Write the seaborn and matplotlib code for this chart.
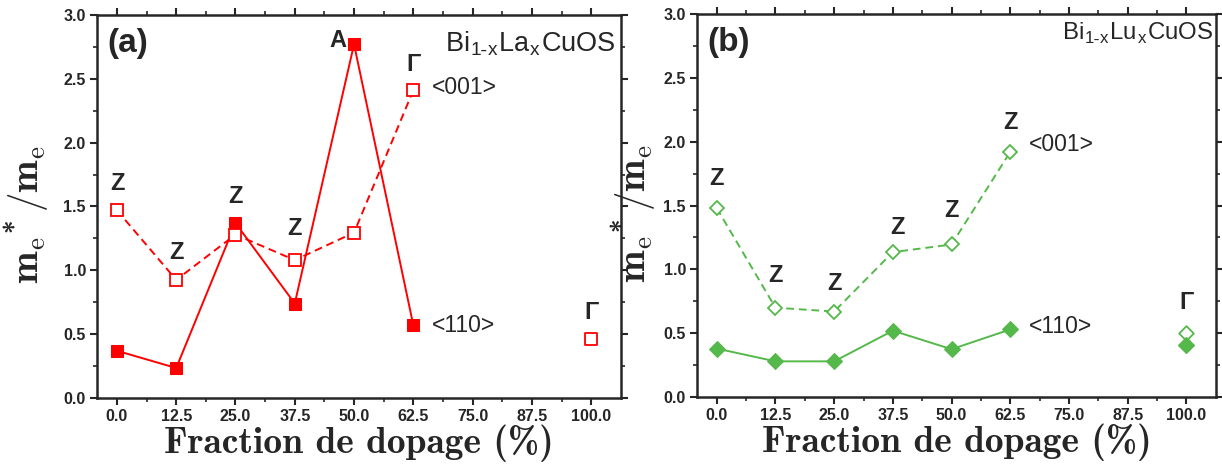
import matplotlib
matplotlib.use("Agg")
import matplotlib.pyplot as plt
import seaborn as sns
import numpy as np
import pandas as pd

# ---- data ----
x_line = [0.0, 12.5, 25.0, 37.5, 50.0, 62.5]
x_tick_vals = [0.0, 12.5, 25.0, 37.5, 50.0, 62.5, 75.0, 87.5, 100.0]
x_tick_labels = ["0.0", "12.5", "25.0", "37.5", "50.0", "62.5", "75.0", "87.5", "100.0"]
y_tick_vals = [0.0, 0.5, 1.0, 1.5, 2.0, 2.5, 3.0]

la_110 = [0.37, 0.235, 1.37, 0.74, 2.77, 0.57]
la_001 = [1.47, 0.925, 1.28, 1.08, 1.295, 2.41]
la_gamma_x = [100.0]
la_gamma_001 = [0.465]

lu_001 = [1.48, 0.70, 0.67, 1.135, 1.195, 1.92]
lu_110 = [0.38, 0.28, 0.28, 0.52, 0.375, 0.53]
lu_gamma_x = [100.0]
lu_gamma_001 = [0.50]
lu_gamma_110 = [0.405]

# point labels: (x, y, text)
la_labels = [(0.0, 1.68, "Z"), (12.5, 1.14, "Z"), (25.0, 1.58, "Z"), (37.5, 1.33, "Z"),
             (46.5, 2.80, "A"), (62.5, 2.61, "Γ"), (100.0, 0.67, "Γ")]
lu_labels = [(0.0, 1.71, "Z"), (12.5, 0.95, "Z"), (25.0, 0.89, "Z"), (38.5, 1.33, "Z"),
             (50.0, 1.46, "Z"), (62.5, 2.15, "Z"), (100.0, 0.74, "Γ")]

RED = "#ff0000"
GREEN = "#55b84a"

sns.set_theme(style="ticks")
plt.rcParams["mathtext.fontset"] = "custom"
plt.rcParams["mathtext.rm"] = "cmr10"
plt.rcParams["mathtext.bf"] = "cmb10"
plt.rcParams["mathtext.it"] = "cmb10"
plt.rcParams["font.family"] = ["Liberation Sans Narrow", "Liberation Sans", "DejaVu Sans"]

fig = plt.figure(figsize=(12.22, 4.65), dpi=100)
axA = fig.add_axes([0.0794, 0.144, 0.4288, 0.824])
axB = fig.add_axes([0.5704, 0.146, 0.4247, 0.824])

tick_font = dict(family=["Liberation Sans Narrow", "Liberation Sans"], weight="bold", size=11.5)
lab_font = dict(family=["Liberation Sans", "DejaVu Sans"], weight="bold", size=17)
dir_font = dict(family=["Liberation Sans Narrow", "Liberation Sans"], size=16.5)
SANS = ["Liberation Sans", "DejaVu Sans"]


def style_axis(ax, label_x):
    ax.set_xlim(-4.2, 106.3)
    ax.set_ylim(0, 3.0)
    ax.set_xticks(x_tick_vals)
    ax.set_xticklabels(x_tick_labels, fontdict=tick_font)
    ax.set_xticks(np.arange(6.25, 100, 12.5), minor=True)
    ax.set_yticks(y_tick_vals)
    ax.set_yticklabels([f"{v:.1f}" for v in y_tick_vals], fontdict=tick_font)
    ax.set_yticks(np.arange(0.25, 3.0, 0.5), minor=True)
    for s in ax.spines.values():
        s.set_linewidth(1.8)
        s.set_visible(True)
    ax.tick_params(axis="both", which="major", direction="out", length=5, width=1.5, pad=3)
    ax.tick_params(axis="both", which="minor", direction="out", length=3, width=1.2)
    ax.tick_params(top=True, right=True, which="both", labeltop=False, labelright=False)
    ax.set_xlabel("Fraction de dopage (%)", fontsize=27, family="cmb10", labelpad=0)
    ax.set_ylabel(r"$\mathbf{m}_{\mathrm{e}}{}^{\mathbf{*}}\,/\mathbf{m}_{\mathrm{e}}$",
                  fontsize=28)
    ax.yaxis.set_label_coords(label_x, 0.48)
    ax.grid(False)


# ---- panel (a) ----
dfa = pd.DataFrame({"x": x_line, "y110": la_110, "y001": la_001})
sns.lineplot(data=dfa, x="x", y="y110", ax=axA, color=RED, lw=1.4, marker="s",
             markersize=8, markerfacecolor=RED, markeredgecolor=RED, zorder=3)
sns.lineplot(data=dfa, x="x", y="y001", ax=axA, color=RED, lw=1.4, ls="--", marker="s",
             markersize=8, markerfacecolor="white", markeredgecolor=RED, markeredgewidth=1.3, zorder=4)
axA.lines[-1].set_dashes([4, 2.5])
sns.scatterplot(x=la_gamma_x, y=la_gamma_001, ax=axA, marker="s", s=64, facecolor="white",
                edgecolor=RED, linewidth=1.3, zorder=4)
style_axis(axA, -0.088)
for x, y, t in la_labels:
    axA.text(x, y, t, ha="center", va="center", fontdict=lab_font)
axA.text(66.5, 2.43, "<001>", ha="left", va="center", fontdict=dir_font)
axA.text(66.5, 0.57, "<110>", ha="left", va="center", fontdict=dir_font)
axA.text(0.02, 0.925, "(a)", transform=axA.transAxes, ha="left", va="center",
         fontsize=24, fontweight="bold", family=SANS)
axA.text(0.99, 0.925, r"Bi$_{\mathregular{1\text{-}x}}$La$_{\mathregular{x}}$CuOS", transform=axA.transAxes,
         ha="right", va="center", fontsize=19.5, family=SANS)

# ---- panel (b) ----
dfb = pd.DataFrame({"x": x_line, "y110": lu_110, "y001": lu_001})
sns.lineplot(data=dfb, x="x", y="y110", ax=axB, color=GREEN, lw=1.4, marker="D",
             markersize=8, markerfacecolor=GREEN, markeredgecolor=GREEN, zorder=3)
sns.lineplot(data=dfb, x="x", y="y001", ax=axB, color=GREEN, lw=1.4, ls="--", marker="D",
             markersize=7.5, markerfacecolor="white", markeredgecolor=GREEN, markeredgewidth=1.3, zorder=4)
axB.lines[-1].set_dashes([4, 2.5])
sns.scatterplot(x=lu_gamma_x, y=lu_gamma_001, ax=axB, marker="D", s=56, facecolor="white",
                edgecolor=GREEN, linewidth=1.3, zorder=4)
sns.scatterplot(x=lu_gamma_x, y=lu_gamma_110, ax=axB, marker="D", s=64, facecolor=GREEN,
                edgecolor=GREEN, linewidth=1.0, zorder=4)
style_axis(axB, -0.075)
for x, y, t in lu_labels:
    axB.text(x, y, t, ha="center", va="center", fontdict=lab_font)
axB.text(66.5, 1.98, "<001>", ha="left", va="center", fontdict=dir_font)
axB.text(66.5, 0.55, "<110>", ha="left", va="center", fontdict=dir_font)
axB.text(0.02, 0.925, "(b)", transform=axB.transAxes, ha="left", va="center",
         fontsize=24, fontweight="bold", family=SANS)
axB.text(0.995, 0.95, r"Bi$_{\mathregular{1\text{-}x}}$Lu$_{\mathregular{x}}$CuOS", transform=axB.transAxes,
         ha="right", va="center", fontsize=17.3, family=SANS)

fig.savefig("out.png", dpi=100)
